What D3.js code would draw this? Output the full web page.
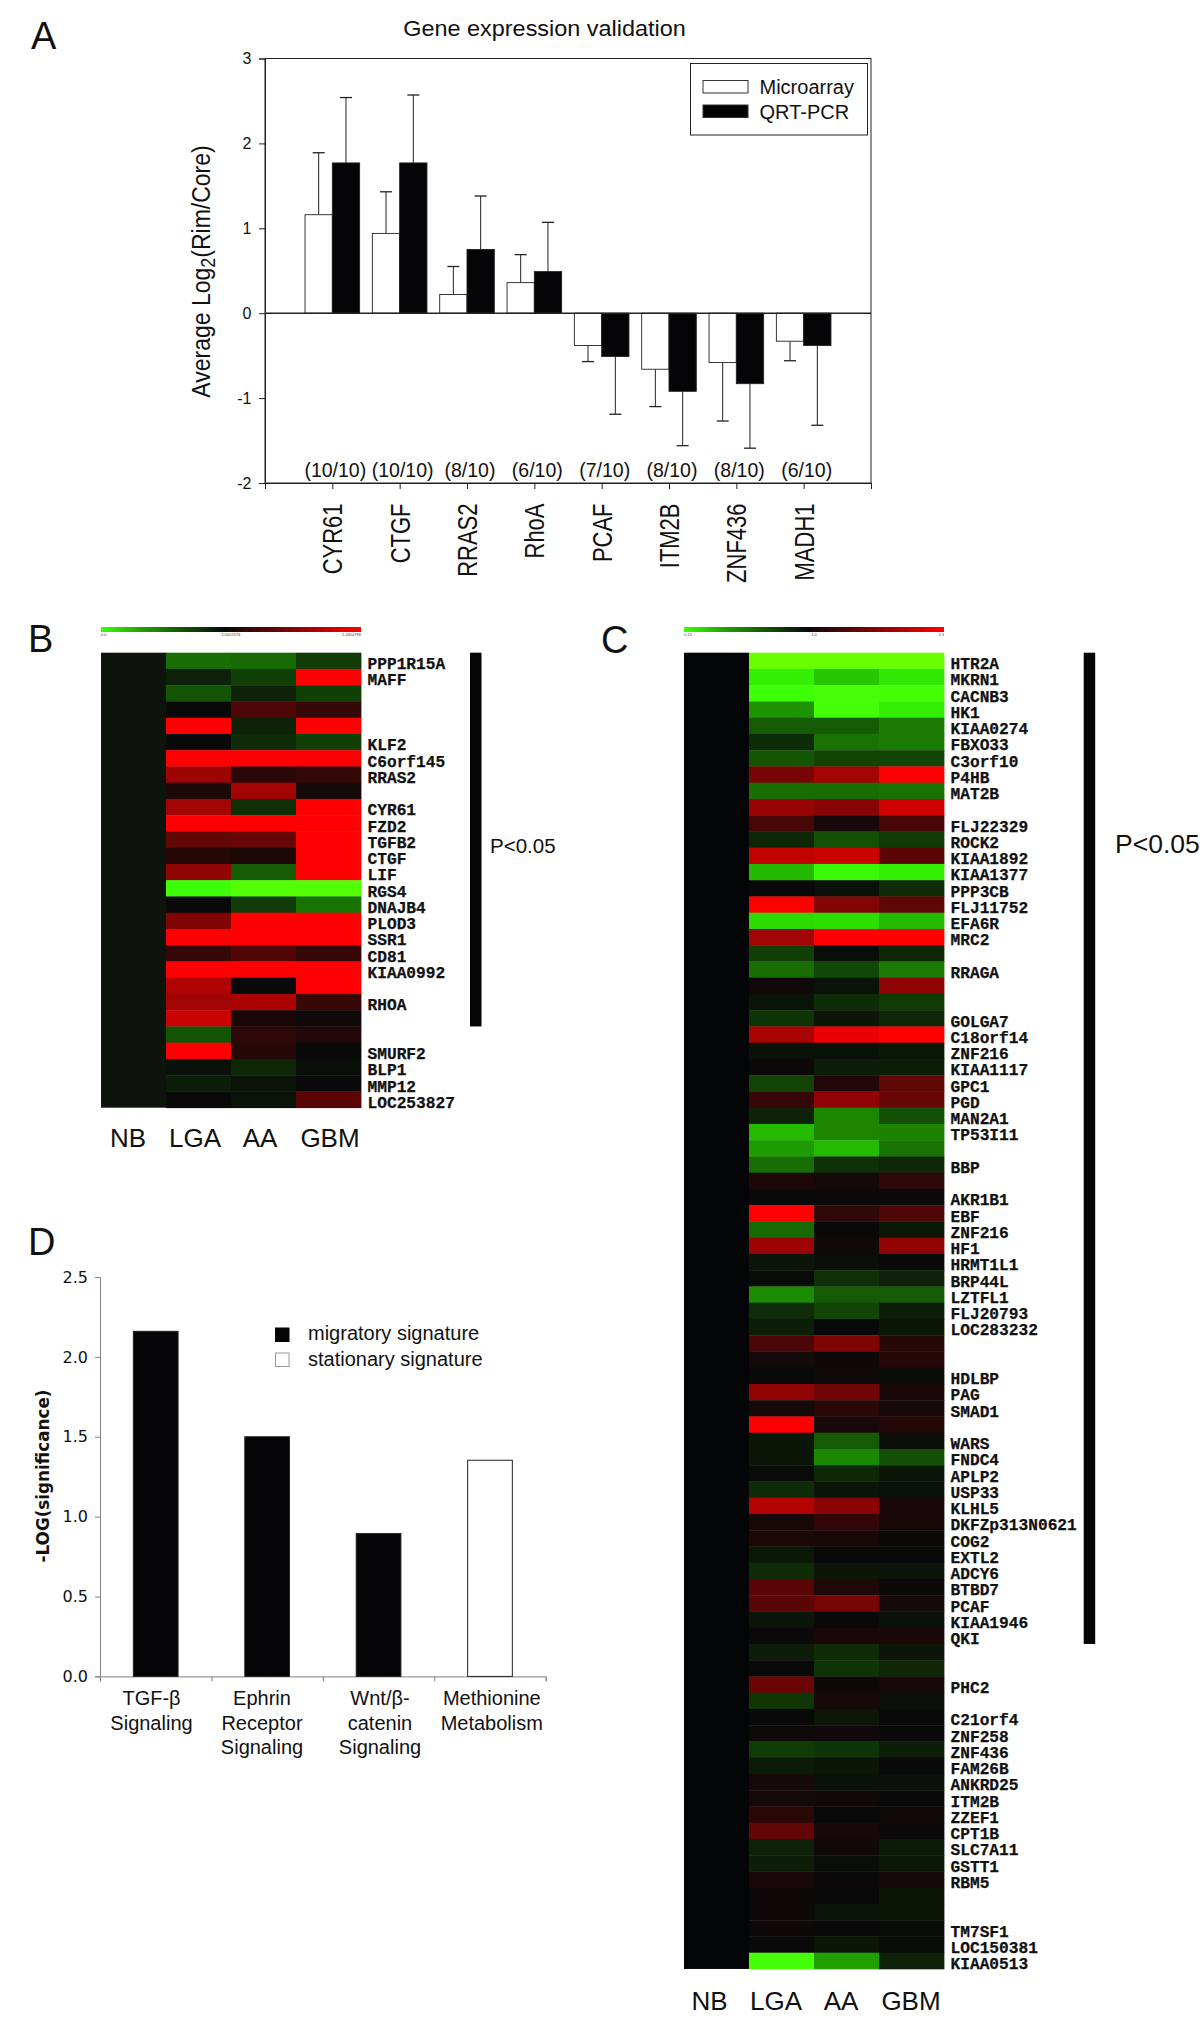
<!DOCTYPE html>
<html><head><meta charset="utf-8">
<script src="https://cdn.jsdelivr.net/npm/d3@7"></script>
<style>
html,body{margin:0;padding:0;background:#fff}
svg{display:block;font-family:"Liberation Sans",Arial,sans-serif;fill:#111}
</style></head><body>
<svg id="c" width="1200" height="2038"></svg>
<script>
// ---------- Panel A data ----------
const genesA = ["CYR61","CTGF","RRAS2","RhoA","PCAF","ITM2B","ZNF436","MADH1"];
const countsA = ["(10/10)","(10/10)","(8/10)","(6/10)","(7/10)","(8/10)","(8/10)","(6/10)"];
const microarray = [1.16,0.94,0.22,0.36,-0.38,-0.66,-0.58,-0.33];
const microarrayErr = [1.89,1.43,0.55,0.69,-0.57,-1.10,-1.27,-0.56];
const qrtpcr = [1.77,1.77,0.75,0.49,-0.51,-0.92,-0.83,-0.38];
const qrtpcrErr = [2.54,2.57,1.38,1.07,-1.19,-1.56,-1.59,-1.32];
const ticksA = [-2,-1,0,1,2,3];
// ---------- Panel B data ----------
const columnsHeat = ["NB","LGA","AA","GBM"];
const labelsB = ["PPP1R15A","MAFF","","","","KLF2","C6orf145","RRAS2","","CYR61","FZD2","TGFB2","CTGF","LIF","RGS4","DNAJB4","PLOD3","SSR1","CD81","KIAA0992","","RHOA","","","SMURF2","BLP1","MMP12","LOC253827"];
const heatB = [
[-.4,-.38,-.2],[-.1,-.22,1],[-.3,-.1,-.22],[0,.28,.18],[1,-.1,1],[0,-.14,-.22],[1,1,1],[.6,.14,.18],[.08,.62,.05],[.62,-.15,1],
[1,1,1],[.36,.38,1],[.12,.08,1],[.55,-.32,1],[-.9,-.95,-.95],[0,-.2,-.42],[.48,1,1],[1,1,1],[.18,.3,.18],[1,1,1],
[.68,0,1],[.62,.66,.2],[.78,.07,.03],[-.3,.15,.1],[1,.12,0],[-.03,-.12,-.02],[-.08,-.04,0],[0,-.04,.33]];
const sigRowsB = 23;
// ---------- Panel C data ----------
const labelsC = ["HTR2A","MKRN1","CACNB3","HK1","KIAA0274","FBXO33","C3orf10","P4HB","MAT2B","","FLJ22329","ROCK2","KIAA1892","KIAA1377","PPP3CB","FLJ11752","EFA6R","MRC2","","RRAGA","","","GOLGA7","C18orf14","ZNF216","KIAA1117","GPC1","PGD","MAN2A1","TP53I11","","BBP","","AKR1B1","EBF","ZNF216","HF1","HRMT1L1","BRP44L","LZTFL1","FLJ20793","LOC283232","","","HDLBP","PAG","SMAD1","","WARS","FNDC4","APLP2","USP33","KLHL5","DKFZp313N0621","COG2","EXTL2","ADCY6","BTBD7","PCAF","KIAA1946","QKI","","","PHC2","","C21orf4","ZNF258","ZNF436","FAM26B","ANKRD25","ITM2B","ZZEF1","CPT1B","SLC7A11","GSTT1","RBM5","","","TM7SF1","LOC150381","KIAA0513"];
const heatC = [
[-1,-1,-1],[-.85,-.72,-.83],[-.9,-.92,-.92],[-.55,-.92,-.85],[-.32,-.32,-.45],[-.14,-.42,-.45],[-.3,-.24,-.24],[.45,.62,1],[-.4,-.4,-.42],[.58,.52,.8],
[.25,.06,.25],[-.12,-.28,-.2],[.75,.78,.33],[-.68,-.88,-.85],[0,-.03,-.14],[1,.5,.35],[-.78,-.8,-.68],[.62,1,1],[-.22,-.02,-.12],[-.4,-.25,-.45],
[.03,-.04,.55],[-.04,-.14,-.2],[-.17,-.05,-.12],[.65,.92,1],[-.03,-.03,-.06],[.02,-.08,-.08],[-.24,.1,.35],[.18,.55,.38],[-.1,-.5,-.28],[-.68,-.5,-.48],
[-.58,-.68,-.42],[-.4,-.15,-.12],[.08,.04,.15],[0,.01,.01],[1,.16,.28],[-.38,0,-.06],[.6,.03,.55],[-.05,-.02,0],[-.01,-.16,-.1],[-.52,-.32,-.32],
[-.14,-.24,-.08],[-.08,0,-.05],[.27,.48,.12],[.05,.02,.12],[0,.03,-.01],[.55,.42,.07],[.05,.14,.05],[1,.05,.11],[-.05,-.32,-.02],[-.05,-.5,-.28],
[-.01,-.12,-.05],[-.14,-.05,-.03],[.7,.52,.07],[.06,.17,.07],[.08,.06,.02],[-.06,0,0],[-.14,-.05,-.05],[.33,.09,.02],[.33,.45,.05],[-.05,0,-.03],
[.01,.07,.07],[-.08,-.14,-.05],[0,-.17,-.12],[.4,.02,.05],[-.18,.05,-.03],[0,-.06,0],[.03,.03,0],[-.2,-.17,-.08],[-.07,-.05,.01],[.05,-.03,-.03],
[.04,.03,0],[.13,0,.03],[.36,.06,.01],[-.1,.03,-.07],[-.08,-.02,-.06],[.07,.01,.05],[.02,0,-.05],[.02,-.04,-.05],[.02,0,-.01],[0,-.05,-.01],[-.92,-.6,-.1]];
const sigRowsC = 61;
const colourbarLabelsB = ["0.0","1.0001976","1.4454788"];
const colourbarLabelsC = ["0.13","1.0","2.3"];
// ---------- Panel D data ----------
const pathwaysD = [["TGF-β","Signaling"],["Ephrin","Receptor","Signaling"],["Wnt/β-","catenin","Signaling"],["Methionine","Metabolism"]];
const valuesD = [2.16,1.50,0.894,1.353];
const signatureD = ["migratory","migratory","migratory","stationary"];
const ticksD = [0,0.5,1,1.5,2,2.5];

const svg = d3.select("#c");
const BLACK="#050507";
const SANS="Liberation Sans";

function letter(t,x,y){svg.append("text").attr("x",x).attr("y",y).attr("font-size",38).text(t);}
letter("A",31,49);letter("B",28,652);letter("C",601,652.5);letter("D",28,1254.5);

// ---------- Panel A ----------
(function(){
 const g=svg.append("g");
 const x=d3.scaleLinear().domain([0,9]).range([265,871]);
 const y=d3.scaleLinear().domain([-2,3]).range([483,58.5]);
 const bw=27.3;
 g.append("text").attr("transform","translate(544.5,36) scale(1.09,1)").attr("text-anchor","middle").attr("font-size",21.5).text("Gene expression validation");
 g.append("rect").attr("x",x(0)).attr("y",y(3)).attr("width",x(9)-x(0)).attr("height",y(-2)-y(3)).attr("fill","none").attr("stroke","#222").attr("stroke-width",1);
 const ya=g.append("g").attr("transform",`translate(${x(0)},0)`).call(d3.axisLeft(y).tickValues(ticksA).tickSize(6).tickFormat(d=>d<0?"-"+Math.abs(d):d));
 ya.selectAll("text").attr("font-size",16).attr("font-family",SANS).attr("dx",-4.5).attr("fill","#111");
 const xa=g.append("g").attr("transform",`translate(0,${y(-2)})`).call(d3.axisBottom(x).tickValues(d3.range(0,10)).tickSize(6).tickFormat(""));
 [ya,xa].forEach(a=>{a.selectAll("path,line").attr("stroke","#222");});
 const series=[{v:microarray,e:microarrayErr,fill:"#fff",off:-bw},{v:qrtpcr,e:qrtpcrErr,fill:BLACK,off:0}];
 series.forEach(s=>{
  const cell=g.append("g").selectAll("g").data(genesA).join("g");
  cell.append("line").attr("x1",(d,i)=>x(i+1)+s.off+bw/2).attr("x2",(d,i)=>x(i+1)+s.off+bw/2)
    .attr("y1",(d,i)=>y(s.v[i])).attr("y2",(d,i)=>y(s.e[i])).attr("stroke","#222");
  cell.append("line").attr("x1",(d,i)=>x(i+1)+s.off+bw/2-6).attr("x2",(d,i)=>x(i+1)+s.off+bw/2+6)
    .attr("y1",(d,i)=>y(s.e[i])).attr("y2",(d,i)=>y(s.e[i])).attr("stroke","#222").attr("stroke-width",1.3);
  cell.append("rect").attr("x",(d,i)=>x(i+1)+s.off).attr("width",bw)
    .attr("y",(d,i)=>Math.min(y(0),y(s.v[i]))).attr("height",(d,i)=>Math.abs(y(s.v[i])-y(0)))
    .attr("fill",s.fill).attr("stroke","#222").attr("stroke-width",.9);
 });
 g.append("line").attr("x1",x(0)).attr("x2",x(9)).attr("y1",y(0)).attr("y2",y(0)).attr("stroke","#222").attr("stroke-width",1.5);
 g.append("g").selectAll("text").data(countsA).join("text").attr("x",(d,i)=>x(i+1)+3).attr("y",477)
   .attr("text-anchor","middle").attr("font-size",19.5).text(d=>d);
 g.append("g").selectAll("text").data(genesA).join("text")
   .attr("transform",(d,i)=>`translate(${x(i+1)+10},503.5) rotate(-90) scale(1,1.22)`).attr("text-anchor","end").attr("font-size",22).text(d=>d);
 const yt=g.append("text").attr("transform","translate(210,271.5) rotate(-90) scale(1,1.15)").attr("text-anchor","middle").attr("font-size",23);
 yt.append("tspan").text("Average Log");
 yt.append("tspan").attr("font-size",18).attr("dy",4).text("2");
 yt.append("tspan").attr("dy",-4).text("(Rim/Core)");
 const lg=g.append("g");
 lg.append("rect").attr("x",690.5).attr("y",63.5).attr("width",177).attr("height",71.5).attr("fill","#fff").attr("stroke","#222");
 [["Microarray","#fff",80.5],["QRT-PCR",BLACK,105]].forEach(r=>{
  lg.append("rect").attr("x",703).attr("y",r[2]).attr("width",45).attr("height",12.5).attr("fill",r[1]).attr("stroke","#333");
  lg.append("text").attr("x",759.5).attr("y",r[2]+13.5).attr("font-size",20).text(r[0]);
 });
})();

// ---------- Heatmaps ----------
const colourDomain=[-1,-.9,-.8,-.6,0,1];
const colour=d3.scaleLinear().domain(colourDomain).range(["#68ff00","#3cff08","#2be000","#1fa000","#090909","#ff0000"]).clamp(true);
function heat(opts){
 const g=svg.append("g");
 const top=652.7,rowH=16.25;
 const x=d3.scaleBand().domain(columnsHeat).range([opts.left,opts.left+260]);
 const y=d3.scaleBand().domain(d3.range(opts.data.length)).range([top,top+rowH*opts.data.length]);
 const gid="grad"+opts.left;
 const lin=svg.append("defs").append("linearGradient").attr("id",gid);
 lin.selectAll("stop").data([-.9,-.6,0,1]).join("stop").attr("offset",d=>(d+.9)/1.9).attr("stop-color",d=>colour(d));
 g.append("rect").attr("x",opts.left).attr("y",627).attr("width",260).attr("height",5).attr("fill",`url(#${gid})`);
 g.append("g").selectAll("text").data(opts.cbLabels).join("text").attr("font-size",4).attr("fill","#444").attr("y",636)
   .attr("x",(d,i)=>opts.left+i*130).attr("text-anchor",(d,i)=>["start","middle","end"][i]).text(d=>d);
 g.append("rect").attr("x",x("NB")).attr("y",top).attr("width",x.bandwidth()+.5).attr("height",rowH*opts.data.length).attr("fill",opts.nb);
 opts.data.forEach((row,r)=>{
  g.append("g").selectAll("rect").data(row).join("rect")
   .attr("x",(d,i)=>x(columnsHeat[i+1])).attr("y",y(r)).attr("width",x.bandwidth()+.4).attr("height",y.bandwidth()+.4)
   .attr("fill",d=>colour(d));
 });
 g.append("g").selectAll("text").data(opts.labels).join("text")
  .attr("y",(d,i)=>y(i)+rowH/2+8.2).attr("x",opts.left+266.5)
  .attr("font-family","Liberation Mono").attr("font-weight","bold").attr("font-size",16.2)
  .attr("stroke","#111").attr("stroke-width",.25).text(d=>d);
 g.append("g").selectAll("text").data(columnsHeat).join("text").attr("x",(d,i)=>opts.colX[i]).attr("y",opts.colY)
  .attr("text-anchor","middle").attr("font-size",26).text(d=>d);
 g.append("rect").attr("x",opts.barX).attr("y",top).attr("width",11.5).attr("height",rowH*opts.sig).attr("fill",BLACK);
 g.append("text").attr("x",opts.pX).attr("y",853).attr("font-size",opts.pSize).text("P<0.05");
}
heat({left:101,data:heatB,labels:labelsB,nb:"#0d140c",cbLabels:colourbarLabelsB,colX:[128,195,260,330],colY:1147,barX:470,sig:sigRowsB,pX:490,pSize:20.5});
heat({left:684,data:heatC,labels:labelsC,nb:"#040506",cbLabels:colourbarLabelsC,colX:[709.5,776,841,911],colY:2010,barX:1083.7,sig:sigRowsC,pX:1115,pSize:26.5});

// ---------- Panel D ----------
(function(){
 const g=svg.append("g");
 const x=d3.scaleBand().domain(d3.range(4)).range([100,545.7]);
 const y=d3.scaleLinear().domain([0,2.5]).range([1676.4,1277]);
 const bw=44.7;
 const ya=g.append("g").attr("transform","translate(100,0)").call(d3.axisLeft(y).tickValues(ticksD).tickSize(5).tickFormat(d3.format(".1f")));
 ya.selectAll("text").attr("font-family","DejaVu Sans").attr("font-size",16).attr("dx",-4).attr("fill","#111");
 const xa=g.append("g").attr("transform",`translate(0,${y(0)})`).call(d3.axisBottom(d3.scaleLinear().domain([0,4]).range([100,545.7])).tickValues(d3.range(0,5)).tickSize(5).tickFormat(""));
 [ya,xa].forEach(a=>a.selectAll("path,line").attr("stroke","#808080"));
 g.append("g").selectAll("rect").data(valuesD).join("rect")
  .attr("x",(d,i)=>x(i)+x.bandwidth()/2-bw/2).attr("width",bw).attr("y",d=>y(d)).attr("height",d=>y(0)-y(d))
  .attr("fill",(d,i)=>signatureD[i]==="migratory"?BLACK:"#fff").attr("stroke","#222").attr("stroke-width",1);
 const centers=[151.5,262,380,491.8];
 pathwaysD.forEach((lines,i)=>{
  g.append("g").selectAll("text").data(lines).join("text").attr("x",centers[i]).attr("y",(d,k)=>1705+k*24.7)
   .attr("text-anchor","middle").attr("font-size",20).text(d=>d);
 });
 g.append("text").attr("transform","translate(49,1476) rotate(-90)").attr("text-anchor","middle")
  .attr("font-family","DejaVu Sans").attr("font-weight","bold").attr("font-size",16.8).text("-LOG(significance)");
 [["migratory signature",BLACK,1328,1339.6],["stationary signature","#fff",1353,1365.7]].forEach(r=>{
  g.append("rect").attr("x",275.5).attr("y",r[2]).attr("width",13.5).attr("height",13.5).attr("fill",r[1]).attr("stroke",r[1]==="#fff"?"#999":BLACK);
  g.append("text").attr("x",308).attr("y",r[3]).attr("font-size",20).text(r[0]);
 });
})();
</script>
</body></html>
